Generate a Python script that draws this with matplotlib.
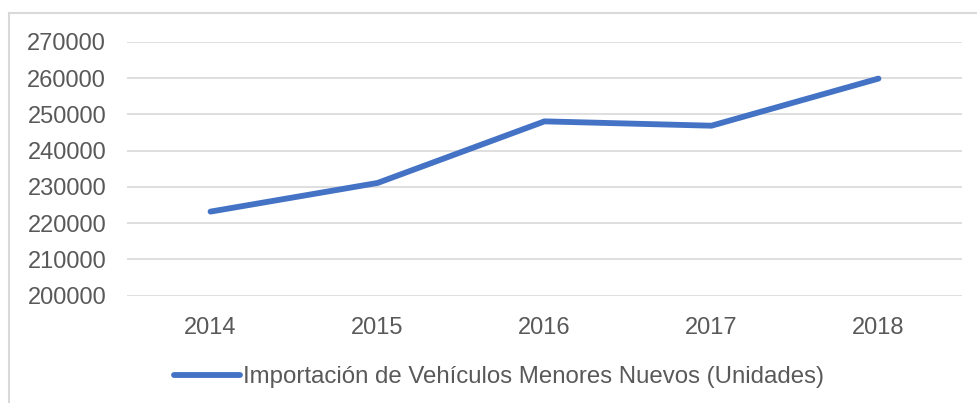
import matplotlib.pyplot as plt
from matplotlib.lines import Line2D

years = ["2014", "2015", "2016", "2017", "2018"]
unidades = [223200, 231100, 248100, 246900, 259900]
y_ticks = [200000, 210000, 220000, 230000, 240000, 250000, 260000, 270000]
serie_label = "Importación de Vehículos Menores Nuevos (Unidades)"

plt.rcParams['font.family'] = ['Liberation Sans', 'DejaVu Sans']

fig = plt.figure(figsize=(9.78, 4.03), dpi=100)
ax = fig.add_axes([0.1299, 0.2663, 0.8537, 0.6295])

x = list(range(len(years)))
ax.plot(x, unidades, color='#4472C4', linewidth=4.2, solid_capstyle='round',
        solid_joinstyle='round', zorder=3)

ax.set_xlim(-0.5, len(years) - 0.5)
ax.set_ylim(y_ticks[0], y_ticks[-1])
ax.set_yticks(y_ticks)
ax.set_yticklabels([str(v) for v in y_ticks])
ax.set_xticks(x)
ax.set_xticklabels(years)
ax.grid(axis='y', color='#D9D9D9', linewidth=1.2)
ax.set_axisbelow(True)
for s in ax.spines.values():
    s.set_visible(False)
ax.tick_params(axis='both', length=0, labelsize=17, colors='#595959')
ax.tick_params(axis='y', pad=15)
ax.tick_params(axis='x', pad=15)

# chart area border (top and left)
fig.add_artist(Line2D([9 / 978, 1.0], [1 - 13 / 403, 1 - 13 / 403],
                      color='#D9D9D9', linewidth=1.5))
fig.add_artist(Line2D([9 / 978, 9 / 978], [0, 1 - 13 / 403],
                      color='#D9D9D9', linewidth=1.5))

handle = Line2D([], [], color='#4472C4', linewidth=4.2, solid_capstyle='round')
fig.legend([handle], [serie_label], loc='center', bbox_to_anchor=(0.51, 1 - 377 / 403),
           frameon=False, fontsize=17.3, labelcolor='#595959', handlelength=2.75,
           handletextpad=0.13)

fig.savefig('out.png', dpi=100)
